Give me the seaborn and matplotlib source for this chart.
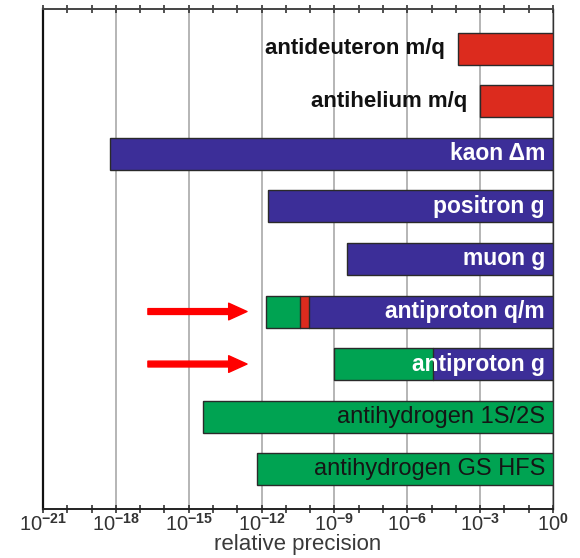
import numpy as np
import matplotlib
matplotlib.use("Agg")
import matplotlib.pyplot as plt
import seaborn as sns

# Measurements, top to bottom
labels = ["antideuteron m/q", "antihelium m/q", "kaon \u0394m", "positron g", "muon g",
          "antiproton q/m", "antiproton g", "antihydrogen 1S/2S", "antihydrogen GS HFS"]
# Relative precision at which each coloured segment begins (None = no such segment);
# every bar runs on to 1
green_start = [None, None, None, None, None, 1.5e-12, 1.0e-9, 4.0e-15, 6.5e-13]
red_start = [1.2e-4, 1.0e-3, None, None, None, 3.8e-11, None, None, None]
blue_start = [None, None, 6.0e-19, 1.8e-12, 3.2e-9, 9.0e-11, 1.2e-5, None, None]
arrow_rows = ["antiproton q/m", "antiproton g"]
tick_exponents = [-21, -18, -15, -12, -9, -6, -3, 0]

GREEN = "#00A352"
RED = "#DC2B1E"
BLUE = "#3C2E98"

sns.set_theme(style="white")
plt.rcParams["font.family"] = ["Liberation Sans", "DejaVu Sans"]
plt.rcParams["mathtext.fontset"] = "custom"
plt.rcParams["mathtext.rm"] = "Liberation Sans"
plt.rcParams["mathtext.it"] = "Liberation Sans"
plt.rcParams["mathtext.bf"] = "Liberation Sans:bold"

fig = plt.figure(figsize=(5.8, 5.58), dpi=100)
ax = fig.add_axes([43 / 580, 49 / 558, 510 / 580, 500 / 558])
ax.set_xscale("log")
ax.set_xlim(1e-21, 1e0)
ax.set_ylim(8.76, -0.76)

bar_h = 0.61
for i, lab in enumerate(labels):
    segs = [(s, c) for s, c in ((green_start[i], GREEN), (red_start[i], RED), (blue_start[i], BLUE))
            if s is not None]
    segs.sort(key=lambda t: t[0])
    for k, (s, c) in enumerate(segs):
        end = segs[k + 1][0] if k + 1 < len(segs) else 1.0
        ax.barh(i, end - s, left=s, height=bar_h, color=c, edgecolor="none", zorder=3)
    # outline around whole bar
    start = segs[0][0]
    ax.barh(i, 1.0 - start, left=start, height=bar_h, fill=False, edgecolor="#2a2a2a",
            linewidth=1.0, zorder=4)
    # internal segment borders
    for s, c in segs[1:]:
        ax.plot([s, s], [i - bar_h / 2, i + bar_h / 2], color="#2a2a2a", lw=1.0, zorder=4)

    last_color = segs[-1][1]
    if last_color == RED:
        ax.annotate(lab, xy=(start, i), xytext=(-13, 0), textcoords="offset pixels",
                    ha="right", va="center", fontsize=16, fontweight="bold",
                    color="#111111", zorder=5)
    elif last_color == BLUE:
        ax.annotate(lab, xy=(1.0, i), xytext=(-8, 0), textcoords="offset pixels",
                    ha="right", va="center", fontsize=16.5, fontweight="bold",
                    color="white", zorder=5)
    else:
        ax.annotate(lab, xy=(1.0, i), xytext=(-8, 0), textcoords="offset pixels",
                    ha="right", va="center", fontsize=17, color="#151515", zorder=5)

for lab in arrow_rows:
    i = labels.index(lab)
    ax.annotate("", xy=(10 ** -12.6, i), xytext=(10 ** -16.68, i),
                arrowprops=dict(arrowstyle="simple,head_length=1.1,head_width=1.0,tail_width=0.35",
                                mutation_scale=12, color="#FF0000", shrinkA=0, shrinkB=0),
                zorder=5)

# axes decoration
ax.set_xticks([10.0 ** e for e in tick_exponents])
ax.set_xticklabels([f"$10^{{\\mathbf{{{e}}}}}$" for e in tick_exponents])
ax.set_xticks([10.0 ** e for e in range(-21, 1)], minor=True)
ax.xaxis.set_minor_formatter(matplotlib.ticker.NullFormatter())
ax.tick_params(axis="x", which="both", direction="inout", top=True, bottom=True,
               length=6, width=1.2, color="#333333", labelsize=14.5, labelcolor="#333333", pad=0)
ax.tick_params(axis="x", which="minor", length=6)
ax.set_yticks([])
ax.grid(axis="x", which="major", color="#b5b5b5", linewidth=1.4, zorder=0)
ax.set_axisbelow(True)

ax.spines["left"].set_color("#111111")
ax.spines["left"].set_linewidth(1.6)
ax.spines["right"].set_color("#333333")
ax.spines["right"].set_linewidth(1.0)
ax.spines["top"].set_color("#444444")
ax.spines["top"].set_linewidth(1.4)
ax.spines["bottom"].set_color("#222222")
ax.spines["bottom"].set_linewidth(1.4)

ax.set_xlabel("relative precision", fontsize=16, color="#3a3a3a", labelpad=-1)

fig.savefig("out.png", dpi=100)
